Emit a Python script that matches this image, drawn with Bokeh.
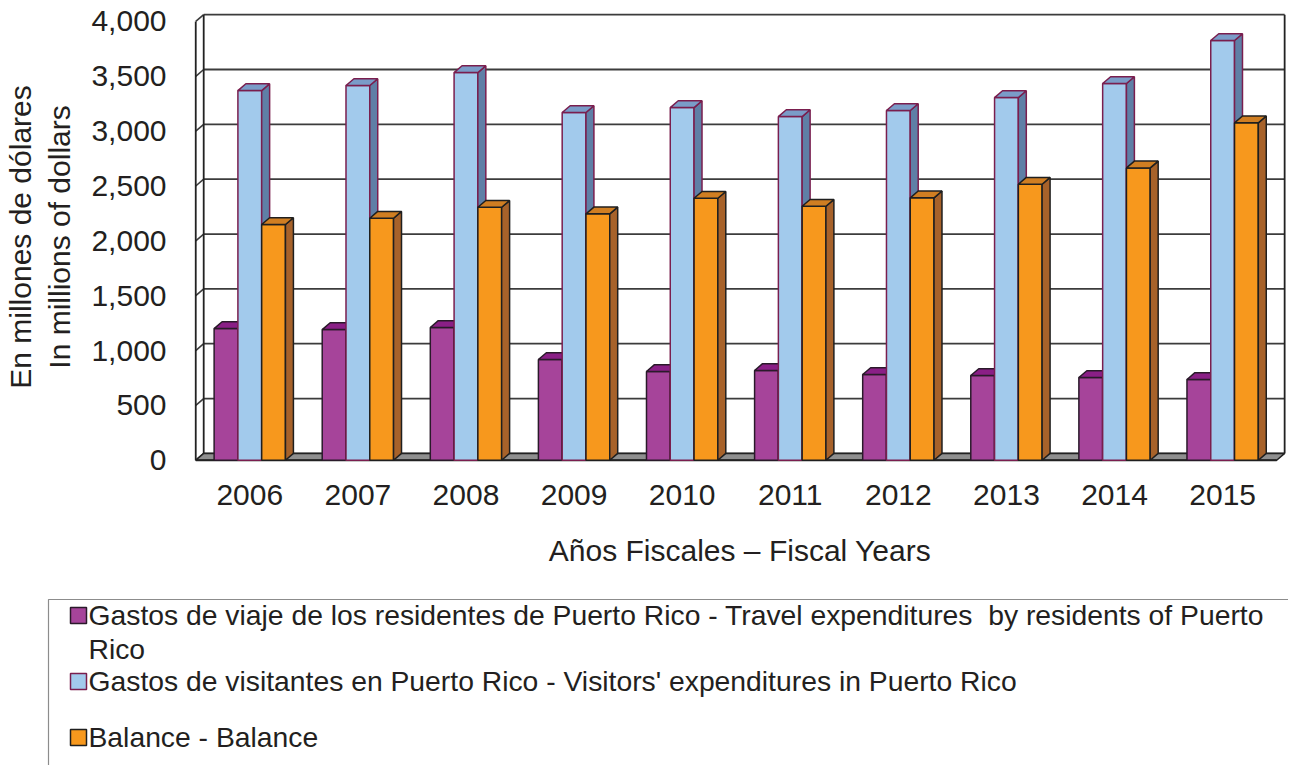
from bokeh.plotting import figure
from bokeh.layouts import column
from bokeh.models import Range1d, FixedTicker, NumeralTickFormatter
from bokeh.core.properties import value
from bokeh.embed import file_html
from bokeh.resources import INLINE

# ---------------- data ----------------
YEARS = ["2006", "2007", "2008", "2009", "2010", "2011", "2012", "2013", "2014", "2015"]
RESIDENTS = [1200, 1191, 1210, 918, 809, 818, 781, 772, 754, 736]
VISITORS = [3370, 3416, 3534, 3170, 3215, 3133, 3188, 3306, 3434, 3826]
BALANCE = [2149, 2206, 2306, 2246, 2388, 2315, 2392, 2516, 2665, 3076]
Y_TICKS = [0, 500, 1000, 1500, 2000, 2500, 3000, 3500, 4000]
LEGEND_LABELS = [
    "Gastos de viaje de los residentes de Puerto Rico - Travel expenditures  by residents of Puerto Rico",
    "Gastos de visitantes en Puerto Rico - Visitors' expenditures in Puerto Rico",
    "Balance - Balance",
]
X_TITLE = "Años Fiscales – Fiscal Years"
Y_TITLE = "En millones de dólares\nIn millions of dollars"

# ---------------- styles ----------------
FONT = value("Liberation Sans")
TXT = "#231f20"
SERIES = [
    dict(vals=RESIDENTS, front="#A6449A", top="#8A1F86", side="#6E1A6A", line="#2a1a2a"),
    dict(vals=VISITORS, front="#A2CAEC", top="#7A9CC8", side="#5F7FA6", line="#7A1E4E"),
    dict(vals=BALANCE, front="#F7981D", top="#D07E22", side="#A7622A", line="#1f1f1f"),
]
BAR_W = 0.22
OFFSETS = [-0.22, 0.0, 0.22]
DX = 0.0736   # depth offset (x units)
DY = 62       # depth offset (value units)

n = len(YEARS)
XL, XR = -0.5, n - 0.5
YMAX = Y_TICKS[-1]

p = figure(width=1288, height=590, x_range=Range1d(-0.53, 9.6), y_range=Range1d(-30, 4100),
           output_backend="svg", toolbar_location=None,
           min_border_left=186, min_border_right=1, min_border_top=10, min_border_bottom=127)
p.outline_line_color = None
p.xgrid.visible = False
p.ygrid.visible = False
p.background_fill_color = "white"
p.border_fill_color = "white"

# walls: back gridlines, side wall diagonals
GRID_C = "#3c3c3c"
p.segment(x0=[XL + DX] * len(Y_TICKS), y0=[v + DY for v in Y_TICKS],
          x1=[XR + DX] * len(Y_TICKS), y1=[v + DY for v in Y_TICKS],
          line_color=GRID_C, line_width=1.8)
p.segment(x0=[XL] * len(Y_TICKS), y0=Y_TICKS,
          x1=[XL + DX] * len(Y_TICKS), y1=[v + DY for v in Y_TICKS],
          line_color=GRID_C, line_width=1.6)
# wall verticals
p.segment(x0=[XL, XL + DX, XR + DX], y0=[0, DY, DY], x1=[XL, XL + DX, XR + DX],
          y1=[YMAX, YMAX + DY, YMAX + DY], line_color="#222222", line_width=1.8)
# floor
p.patch(x=[XL, XR, XR + DX, XL + DX], y=[0, 0, DY, DY], fill_color="#8f8f8f",
        line_color="#222222", line_width=1.5)
p.segment(x0=[XL], y0=[0], x1=[XR], y1=[0], line_color="#222222", line_width=2)

# 3D bars
for off, s in zip(OFFSETS, SERIES):
    lefts = [i + off - BAR_W / 2 for i in range(n)]
    rights = [l + BAR_W for l in lefts]
    vals = s["vals"]
    p.quad(left=lefts, right=rights, bottom=[0] * n, top=vals,
           fill_color=s["front"], line_color=s["line"], line_width=1.5)
    side_xs = [[r, r + DX, r + DX, r] for r in rights]
    side_ys = [[0, DY, v + DY, v] for v in vals]
    p.patches(xs=side_xs, ys=side_ys, fill_color=s["side"], line_color=s["line"], line_width=1.5)
    top_xs = [[l, r, r + DX, l + DX] for l, r in zip(lefts, rights)]
    top_ys = [[v, v, v + DY, v + DY] for v in vals]
    p.patches(xs=top_xs, ys=top_ys, fill_color=s["top"], line_color=s["line"], line_width=1.5)

# axes
for ax in (p.xaxis[0], p.yaxis[0]):
    ax.axis_line_color = None
    ax.major_tick_line_color = None
    ax.minor_tick_line_color = None
    ax.major_tick_out = 0
    ax.major_tick_in = 0
    ax.major_label_text_font = "Liberation Sans"
    ax.major_label_text_font_size = "30px"
    ax.major_label_text_color = TXT
    ax.axis_label_text_font = "Liberation Sans"
    ax.axis_label_text_font_size = "30px"
    ax.axis_label_text_font_style = "normal"
    ax.axis_label_text_color = TXT

p.xaxis.ticker = FixedTicker(ticks=list(range(n)))
p.xaxis.major_label_overrides = {i: y for i, y in enumerate(YEARS)}
p.xaxis.major_label_standoff = 21
p.xaxis.axis_label = X_TITLE
p.xaxis.axis_label_standoff = 26

p.yaxis.ticker = FixedTicker(ticks=Y_TICKS)
p.yaxis.formatter = NumeralTickFormatter(format="0,0")
p.yaxis.major_label_standoff = 26
p.yaxis.axis_label = Y_TITLE
p.yaxis.axis_label_standoff = 12

# ---------------- legend (separate panel) ----------------
LH = 175
lg = figure(width=1288, height=LH, x_range=Range1d(0, 1288), y_range=Range1d(LH, 0),
            output_backend="svg", toolbar_location=None, min_border=0,
            x_axis_type=None, y_axis_type=None)
lg.outline_line_color = None
lg.background_fill_color = "white"
lg.border_fill_color = "white"
for fig in (p, lg):
    if "frame_align" in fig.properties():
        fig.frame_align = False

lg.line(x=[48, 48, 1288], y=[LH, 9, 9], line_color="#8c8c8c", line_width=1.2)

first, rest = LEGEND_LABELS[0].rsplit(" ", 1)
lines = [first.replace("  ", " \u00a0"), rest, LEGEND_LABELS[1], LEGEND_LABELS[2]]
centers = [24, 58, 90, 146]
lg.text(x=[88] * len(lines), y=centers, text=lines, text_font=FONT,
        text_font_size="28.3px", text_color=TXT, text_baseline="middle")
sq_y = [centers[0] + 1, centers[2] + 1, centers[3] + 1]
lg.rect(x=[78] * 3, y=sq_y, width=16, height=16,
        fill_color=[s["front"] for s in SERIES], line_color=[s["line"] for s in SERIES],
        line_width=1.5)

layout = column(p, lg, spacing=0)
open("out.html", "w").write(file_html(layout, INLINE))
